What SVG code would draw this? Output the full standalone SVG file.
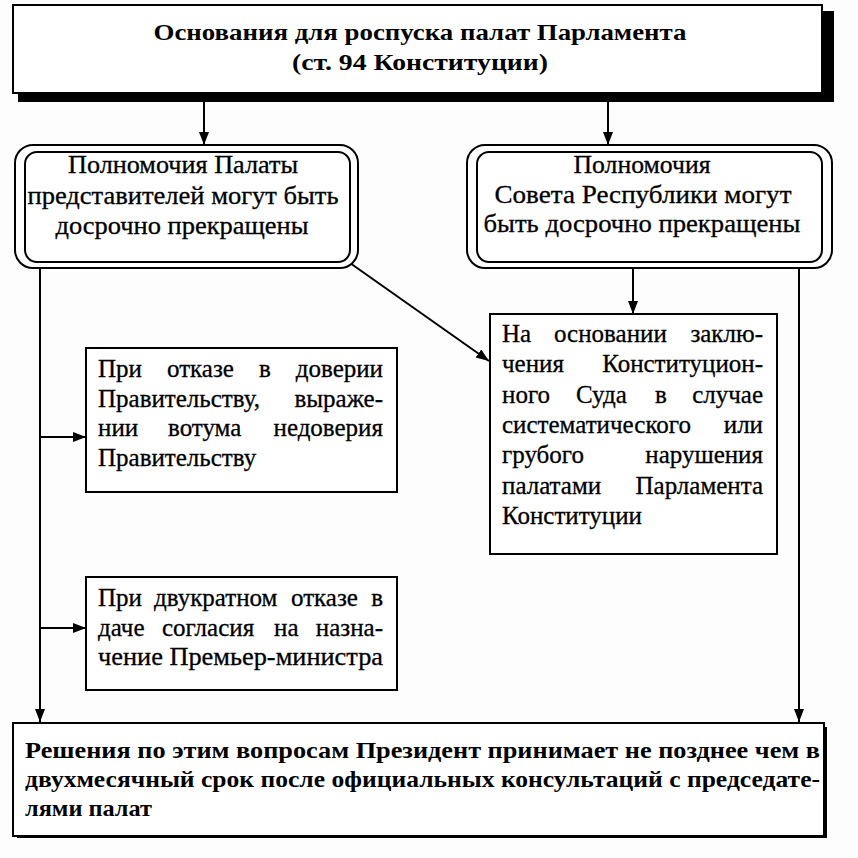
<svg xmlns="http://www.w3.org/2000/svg" width="858" height="858" viewBox="0 0 858 858">
<defs>
<style>
.bg{fill:#fdfdfd}
.box{fill:#ffffff;stroke:#000;stroke-width:2}
.shadow{fill:#000}
.t{font-family:"Liberation Serif","Times New Roman",Times,serif;font-size:25px;fill:#000;stroke:#000;stroke-width:0.3}
.tb{font-family:"Liberation Serif","Times New Roman",Times,serif;font-size:24px;font-weight:bold;fill:#000}
.c{text-anchor:middle}
.ln{fill:none;stroke:#000;stroke-width:2}
</style>
<marker id="ah" markerUnits="userSpaceOnUse" markerWidth="14" markerHeight="12" refX="13" refY="5" orient="auto">
<path d="M0,0 L13,5 L0,10 z" fill="#000"/>
</marker>
</defs>
<rect class="bg" x="0" y="0" width="858" height="858"/>

<g id="connectors">
<line class="ln" x1="204" y1="100" x2="204" y2="145" marker-end="url(#ah)"/>
<line class="ln" x1="608" y1="100" x2="608" y2="145" marker-end="url(#ah)"/>
<line class="ln" x1="40" y1="268" x2="40" y2="722" marker-end="url(#ah)"/>
<line class="ln" x1="799" y1="268" x2="799" y2="722" marker-end="url(#ah)"/>
<line class="ln" x1="350" y1="263" x2="489" y2="361" marker-end="url(#ah)"/>
<line class="ln" x1="633" y1="268" x2="633" y2="314" marker-end="url(#ah)"/>
<line class="ln" x1="40" y1="437" x2="86" y2="437" marker-end="url(#ah)"/>
<line class="ln" x1="40" y1="628" x2="86" y2="628" marker-end="url(#ah)"/>
</g>

<g id="title">
<rect class="shadow" x="18" y="11" width="816" height="91"/>
<rect class="box" x="13" y="5" width="809" height="88"/>
<text class="tb c" x="420" y="40" textLength="533" lengthAdjust="spacingAndGlyphs">Основания для роспуска палат Парламента</text>
<text class="tb c" x="420" y="70" textLength="256" lengthAdjust="spacingAndGlyphs">(ст. 94 Конституции)</text>
</g>

<g id="house">
<rect class="box" x="15" y="145" width="343" height="123" rx="18"/>
<rect class="box" x="25" y="152" width="325" height="110" rx="12"/>
<text class="t c" x="183" y="173" textLength="230" lengthAdjust="spacingAndGlyphs">Полномочия Палаты</text>
<text class="t c" x="183" y="204" textLength="311" lengthAdjust="spacingAndGlyphs">представителей могут быть</text>
<text class="t c" x="182" y="234" textLength="253" lengthAdjust="spacingAndGlyphs">досрочно прекращены</text>
</g>

<g id="council">
<rect class="box" x="467" y="145" width="365" height="123" rx="18"/>
<rect class="box" x="477" y="152" width="345" height="110" rx="12"/>
<text class="t c" x="642" y="173" textLength="137" lengthAdjust="spacingAndGlyphs">Полномочия</text>
<text class="t c" x="643" y="203" textLength="297" lengthAdjust="spacingAndGlyphs">Совета Республики могут</text>
<text class="t c" x="642" y="232" textLength="317" lengthAdjust="spacingAndGlyphs">быть досрочно прекращены</text>
</g>

<g id="court">
<rect class="box" x="490" y="314" width="287" height="240"/>
<text class="t" y="342"><tspan x="502">На</tspan> <tspan x="554">основании</tspan> <tspan x="763" text-anchor="end">заклю-</tspan></text>
<text class="t" y="372"><tspan x="502">чения</tspan> <tspan x="763" text-anchor="end">Конституцион-</tspan></text>
<text class="t" y="403"><tspan x="502">ного</tspan> <tspan x="576">Суда</tspan> <tspan x="655">в</tspan> <tspan x="763" text-anchor="end">случае</tspan></text>
<text class="t" y="433"><tspan x="502">систематического</tspan> <tspan x="763" text-anchor="end">или</tspan></text>
<text class="t" y="463"><tspan x="502">грубого</tspan> <tspan x="763" text-anchor="end">нарушения</tspan></text>
<text class="t" y="494"><tspan x="502">палатами</tspan> <tspan x="763" text-anchor="end">Парламента</tspan></text>
<text class="t" x="502" y="524">Конституции</text>
</g>

<g id="noconfidence">
<rect class="box" x="86" y="348" width="311" height="144"/>
<text class="t" y="377"><tspan x="98">При</tspan> <tspan x="167">отказе</tspan> <tspan x="259">в</tspan> <tspan x="383" text-anchor="end">доверии</tspan></text>
<text class="t" y="407"><tspan x="98">Правительству,</tspan> <tspan x="383" text-anchor="end">выраже-</tspan></text>
<text class="t" y="436"><tspan x="98">нии</tspan> <tspan x="168">вотума</tspan> <tspan x="383" text-anchor="end">недоверия</tspan></text>
<text class="t" x="98" y="466">Правительству</text>
</g>

<g id="premier">
<rect class="box" x="86" y="577" width="311" height="113"/>
<text class="t" y="606"><tspan x="98">При</tspan> <tspan x="154">двукратном</tspan> <tspan x="291">отказе</tspan> <tspan x="383" text-anchor="end">в</tspan></text>
<text class="t" y="636"><tspan x="98">даче</tspan> <tspan x="162">согласия</tspan> <tspan x="274">на</tspan> <tspan x="383" text-anchor="end">назна-</tspan></text>
<text class="t" y="665" x="98" textLength="285" lengthAdjust="spacingAndGlyphs">чение Премьер-министра</text>
</g>

<g id="decision">
<rect class="shadow" x="17" y="727" width="810" height="111"/>
<rect class="box" x="13" y="723" width="811" height="113"/>
<text class="tb" x="25" y="758" textLength="795" lengthAdjust="spacingAndGlyphs">Решения по этим вопросам Президент принимает не позднее чем в</text>
<text class="tb" x="25" y="787" textLength="795" lengthAdjust="spacingAndGlyphs">двухмесячный срок после официальных консультаций с председате-</text>
<text class="tb" x="25" y="816" textLength="127" lengthAdjust="spacingAndGlyphs">лями палат</text>
</g>
</svg>
